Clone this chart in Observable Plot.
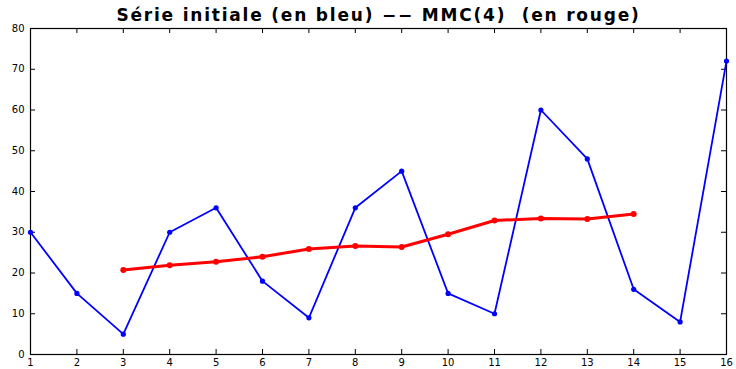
<!DOCTYPE html>
<html>
<head>
<meta charset="utf-8">
<script src="https://cdn.jsdelivr.net/npm/d3@7"></script>
<script src="https://cdn.jsdelivr.net/npm/@observablehq/plot@0.6"></script>
<style>
  html, body { margin: 0; padding: 0; background: #fff; }
  svg { display: block; }
  .title-text text { letter-spacing: 1.8px; white-space: pre; }
</style>
</head>
<body>
<div id="chart"></div>
<script>
const title = "Série initiale (en bleu) −− MMC(4)  (en rouge)";
const tIndex = [1, 2, 3, 4, 5, 6, 7, 8, 9, 10, 11, 12, 13, 14, 15, 16];
const serie = [30, 15, 5, 30, 36, 18, 9, 36, 45, 15, 10, 60, 48, 16, 8, 72];
const mmcIndex = [3, 4, 5, 6, 7, 8, 9, 10, 11, 12, 13, 14];
const mmc = [20.75, 21.875, 22.75, 24, 25.875, 26.625, 26.375, 29.5, 32.875, 33.375, 33.25, 34.5];
const xTicks = [1, 2, 3, 4, 5, 6, 7, 8, 9, 10, 11, 12, 13, 14, 15, 16];
const yTicks = [0, 10, 20, 30, 40, 50, 60, 70, 80];

const blue = tIndex.map((t, i) => ({t, v: serie[i]}));
const red = mmcIndex.map((t, i) => ({t, v: mmc[i]}));

const W = 736, H = 369;
const mL = 30, mR = 10, mT = 28, mB = 15;
const pw = W - mL - mR, ph = H - mT - mB;
const tick = 5;

const chart = Plot.plot({
  width: W,
  height: H,
  marginLeft: mL,
  marginRight: mR,
  marginTop: mT,
  marginBottom: mB,
  style: {fontFamily: "DejaVu Sans, sans-serif", fontSize: "10px", background: "#fff", overflow: "visible"},
  x: {domain: [1, 16], ticks: xTicks, label: null},
  y: {domain: [0, 80], ticks: yTicks, label: null},
  marks: [
    Plot.axisX(xTicks, {tickSize: 0, tickPadding: 4, fontSize: 10, fill: "#000", label: null}),
    Plot.axisY(yTicks, {tickSize: 0, tickPadding: 6, fontSize: 10, fill: "#000", label: null}),
    Plot.tickX(xTicks, {x: d => d, insetTop: ph - tick, stroke: "#000", strokeWidth: 1}),
    Plot.tickX(xTicks, {x: d => d, insetBottom: ph - tick, stroke: "#000", strokeWidth: 1}),
    Plot.tickY(yTicks, {y: d => d, insetRight: pw - tick, stroke: "#000", strokeWidth: 1}),
    Plot.tickY(yTicks, {y: d => d, insetLeft: pw - tick, stroke: "#000", strokeWidth: 1}),
    Plot.frame({stroke: "#000", strokeWidth: 1.2}),
    Plot.line(blue, {x: "t", y: "v", stroke: "#0000ff", strokeWidth: 1.8}),
    Plot.dot(blue, {x: "t", y: "v", r: 2.6, fill: "#0000ff"}),
    Plot.line(red, {x: "t", y: "v", stroke: "#ff0000", strokeWidth: 3}),
    Plot.dot(red, {x: "t", y: "v", r: 3, fill: "#ff0000"}),
    Plot.text([title], {frameAnchor: "top", dy: -8, text: d => d, fontSize: 17, fontWeight: "bold", fill: "#000", lineAnchor: "bottom", className: "title-text"})
  ]
});
document.getElementById("chart").appendChild(chart);
</script>
</body>
</html>
